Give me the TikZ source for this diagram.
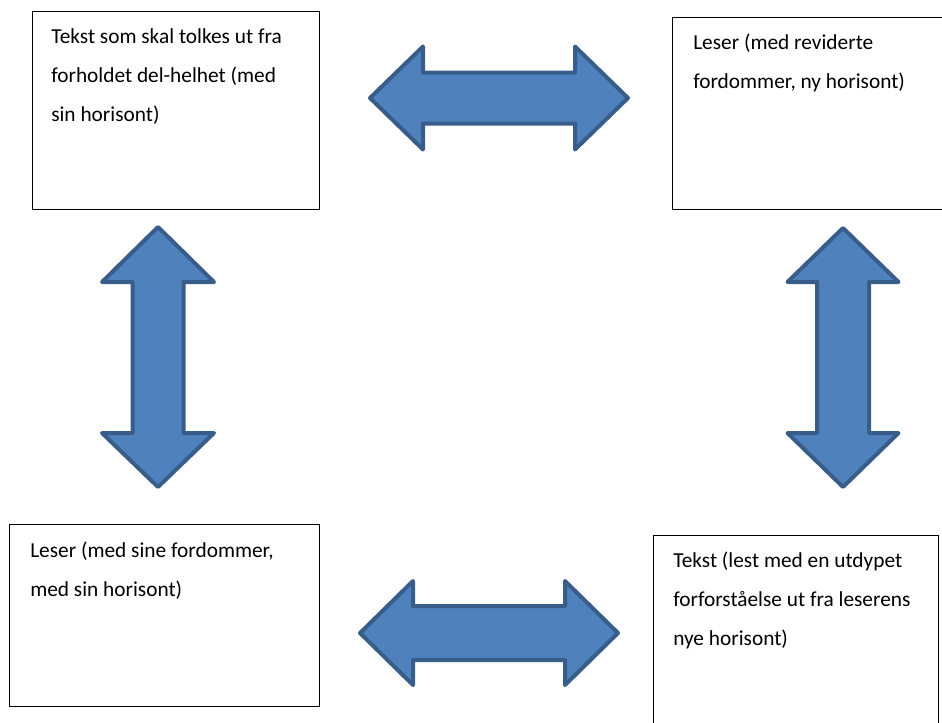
\documentclass[tikz,border=0pt]{standalone}
\usepackage{fontspec}
\setmainfont{Carlito}
\definecolor{pilblaa}{RGB}{79,129,189}
\definecolor{pilkant}{RGB}{56,93,138}

\begin{document}
\begin{tikzpicture}[x=.75pt,y=-.75pt,font=\fontsize{16}{29.25}\selectfont,
    boks/.style={draw,line width=1pt,inner sep=0pt,anchor=north west},
    tekst/.style={anchor=base west,align=left,inner sep=0pt},
    pil/.style={draw=pilkant,fill=pilblaa,line width=3pt,line join=round}]
    \useasboundingbox (0,0) rectangle (942,722);
    \clip (0,0) rectangle (942,722);
    % boksene
    \node[boks,minimum width=215.25pt,minimum height=148.5pt] (tl) at (32,11) {};
    \node[boks,minimum width=216pt,minimum height=144pt] (tr) at (672,17) {};
    \node[boks,minimum width=232.5pt,minimum height=136.5pt] (bl) at (9,524) {};
    \node[boks,minimum width=213.75pt,minimum height=153.75pt] (br) at (653,535) {};
    % base = grunnlinja til siste linje (39 px per linje)
    \node[tekst] (tltekst) at ([shift={(19,110)}]tl.north west)
      {Tekst som skal tolkes ut fra\\forholdet del-helhet (med\\sin horisont)};
    \node[tekst] (trtekst) at ([shift={(21,71)}]tr.north west)
      {Leser (med reviderte\\fordommer, ny horisont)};
    \node[tekst] (bltekst) at ([shift={(21,72)}]bl.north west)
      {Leser (med sine fordommer,\\med sin horisont)};
    \node[tekst] (brtekst) at ([shift={(20,110)}]br.north west)
      {Tekst (lest med en utdypet\\forforståelse ut fra leserens\\nye horisont)};
    % piler
    \draw[pil] (370,98) -- (423,46.5) -- (423,72.5) -- (575,72.5) -- (575,46.5) -- (628,98)
      -- (575,149.5) -- (575,123.5) -- (423,123.5) -- (423,149.5) -- cycle;
    \draw[pil] (360,633) -- (413,581) -- (413,606) -- (565,606) -- (565,581) -- (618,633)
      -- (565,685) -- (565,660) -- (413,660) -- (413,685) -- cycle;
    \draw[pil] (158,227) -- (214,282) -- (183.5,282) -- (183.5,433) -- (214,433) -- (158,487)
      -- (102,433) -- (132.5,433) -- (132.5,282) -- (102,282) -- cycle;
    \draw[pil] (843,228) -- (898.5,282) -- (869,282) -- (869,433) -- (898.5,433) -- (843,487)
      -- (787.5,433) -- (817,433) -- (817,282) -- (787.5,282) -- cycle;
\end{tikzpicture}
\end{document}
